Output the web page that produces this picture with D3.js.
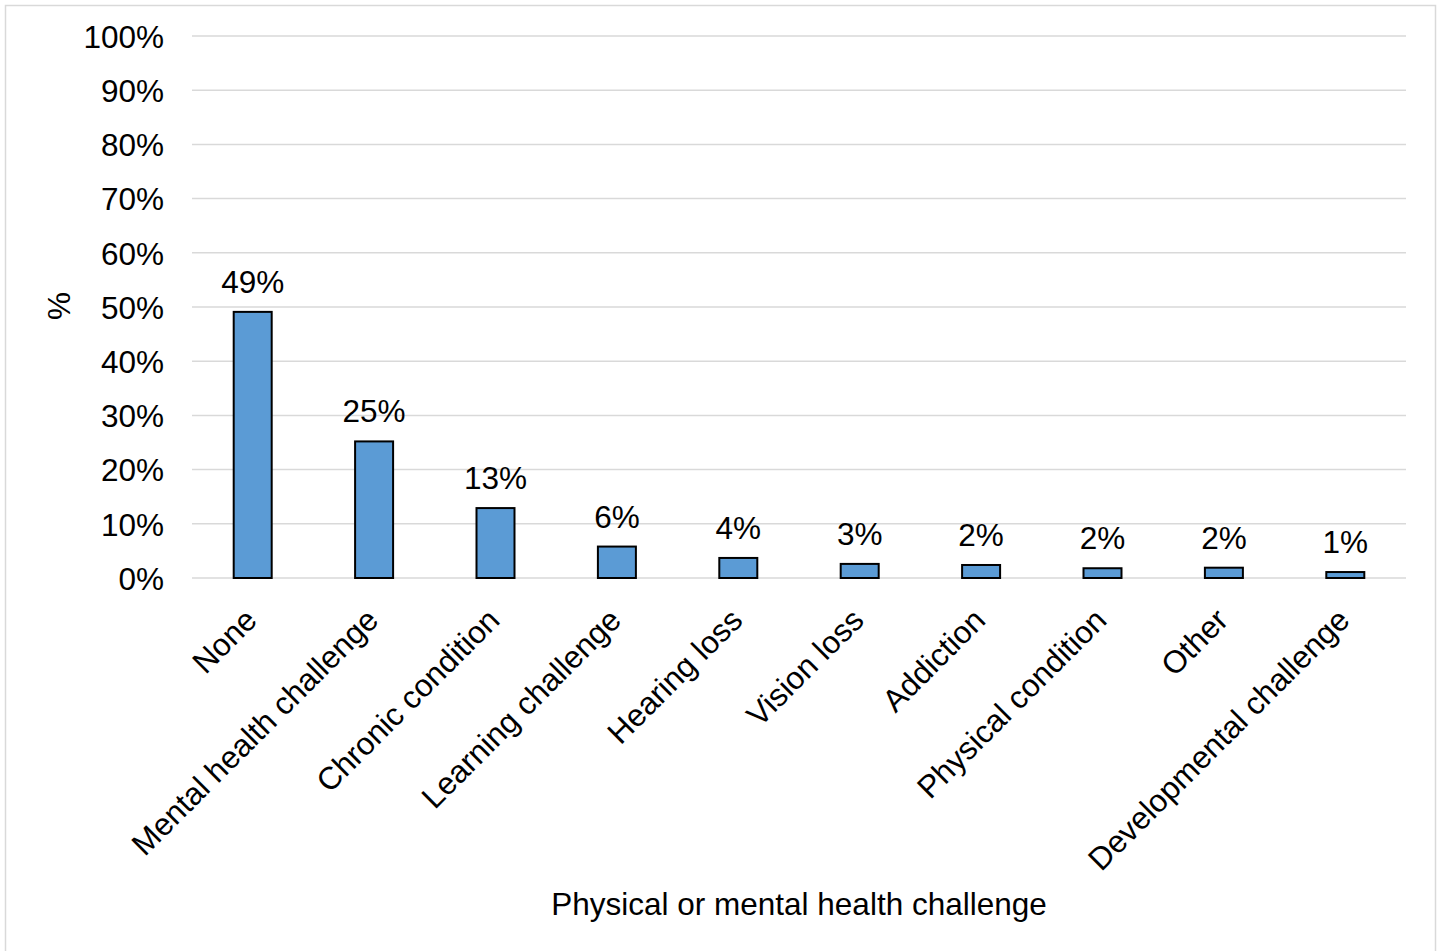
<!DOCTYPE html>
<html lang="en">
<head>
	<meta charset="utf-8">
	<title>Physical or mental health challenge</title>
	<script src="https://d3js.org/d3.v7.min.js"></script>
	<style type="text/css">
		body { margin: 0; background: #fff; }
		text { font-family: "Liberation Sans", Arial, sans-serif; fill: #000; }
	</style>
</head>
<body>
	<script type="text/javascript">

	// window size
	var w = 1443;
	var h = 951;
	var fontSize = "31.5px";

	// data
	var categories = ["None", "Mental health challenge", "Chronic condition", "Learning challenge",
		"Hearing loss", "Vision loss", "Addiction", "Physical condition", "Other", "Developmental challenge"];
	var values = [49.1, 25.2, 12.9, 5.8, 3.7, 2.6, 2.4, 1.8, 1.9, 1.1];
	var valueLabels = ["49%", "25%", "13%", "6%", "4%", "3%", "2%", "2%", "2%", "1%"];
	var yTicks = [0, 10, 20, 30, 40, 50, 60, 70, 80, 90, 100];

	// plot area
	var plotLeft = 192, plotRight = 1406, plotTop = 36, plotBottom = 578;

	var xScale = d3.scaleBand().domain(categories).range([plotLeft, plotRight]).paddingInner(0.687).paddingOuter(0.3435);
	var yScale = d3.scaleLinear().domain([0, 100]).range([plotBottom, plotTop]);

	var svg = d3.select("body")
				.append("svg")
				.attr("width", w)
				.attr("height", h);

	// chart border
	svg.append("rect")
		.attr("x", 5.5).attr("y", 5.5)
		.attr("width", 1430).attr("height", 960)
		.attr("fill", "none")
		.attr("stroke", "#d9d9d9")
		.attr("stroke-width", 1.5);

	// gridlines
	svg.append("g")
		.selectAll("line")
		.data(yTicks)
		.enter()
		.append("line")
		.attr("x1", plotLeft).attr("x2", plotRight)
		.attr("y1", d => yScale(d)).attr("y2", d => yScale(d))
		.attr("stroke", "#d9d9d9")
		.attr("stroke-width", 1.5);

	// y axis
	var yAxis = d3.axisLeft(yScale).tickValues(yTicks).tickFormat(d => d + "%").tickSize(0).tickPadding(28);
	var yG = svg.append("g")
		.attr("transform", "translate(" + plotLeft + ",0)")
		.call(yAxis);
	yG.select(".domain").remove();
	yG.selectAll("text")
		.style("font-family", "'Liberation Sans', Arial, sans-serif")
		.style("font-size", fontSize)
		.attr("dy", "0.36em");

	// x axis
	var xAxis = d3.axisBottom(xScale).tickSize(0).tickPadding(0);
	var xG = svg.append("g")
		.attr("transform", "translate(0," + plotBottom + ")")
		.call(xAxis);
	xG.select(".domain").remove();
	xG.selectAll("text")
		.style("font-family", "'Liberation Sans', Arial, sans-serif")
		.style("font-size", fontSize)
		.style("text-anchor", "end")
		.attr("y", 0)
		.attr("dy", 0)
		.attr("transform", "translate(6,44) rotate(-45)");

	// bars
	svg.append("g")
		.selectAll("rect")
		.data(values)
		.enter()
		.append("rect")
		.attr("x", (d, i) => xScale(categories[i]))
		.attr("y", d => yScale(d))
		.attr("width", xScale.bandwidth())
		.attr("height", d => plotBottom - yScale(d))
		.attr("fill", "#5b9bd5")
		.attr("stroke", "#000")
		.attr("stroke-width", 2);

	// value labels
	svg.append("g")
		.selectAll("text")
		.data(values)
		.enter()
		.append("text")
		.attr("x", (d, i) => xScale(categories[i]) + xScale.bandwidth() / 2)
		.attr("y", d => yScale(d) - 19)
		.attr("text-anchor", "middle")
		.style("font-size", fontSize)
		.text((d, i) => valueLabels[i]);

	// y label
	svg.append("text")
		.attr("transform", "translate(70,306) rotate(-90)")
		.attr("text-anchor", "middle")
		.style("font-size", fontSize)
		.text("%");

	// x label
	svg.append("text")
		.attr("x", 799)
		.attr("y", 915)
		.attr("text-anchor", "middle")
		.style("font-size", fontSize)
		.text("Physical or mental health challenge");

	</script>
</body>
</html>
